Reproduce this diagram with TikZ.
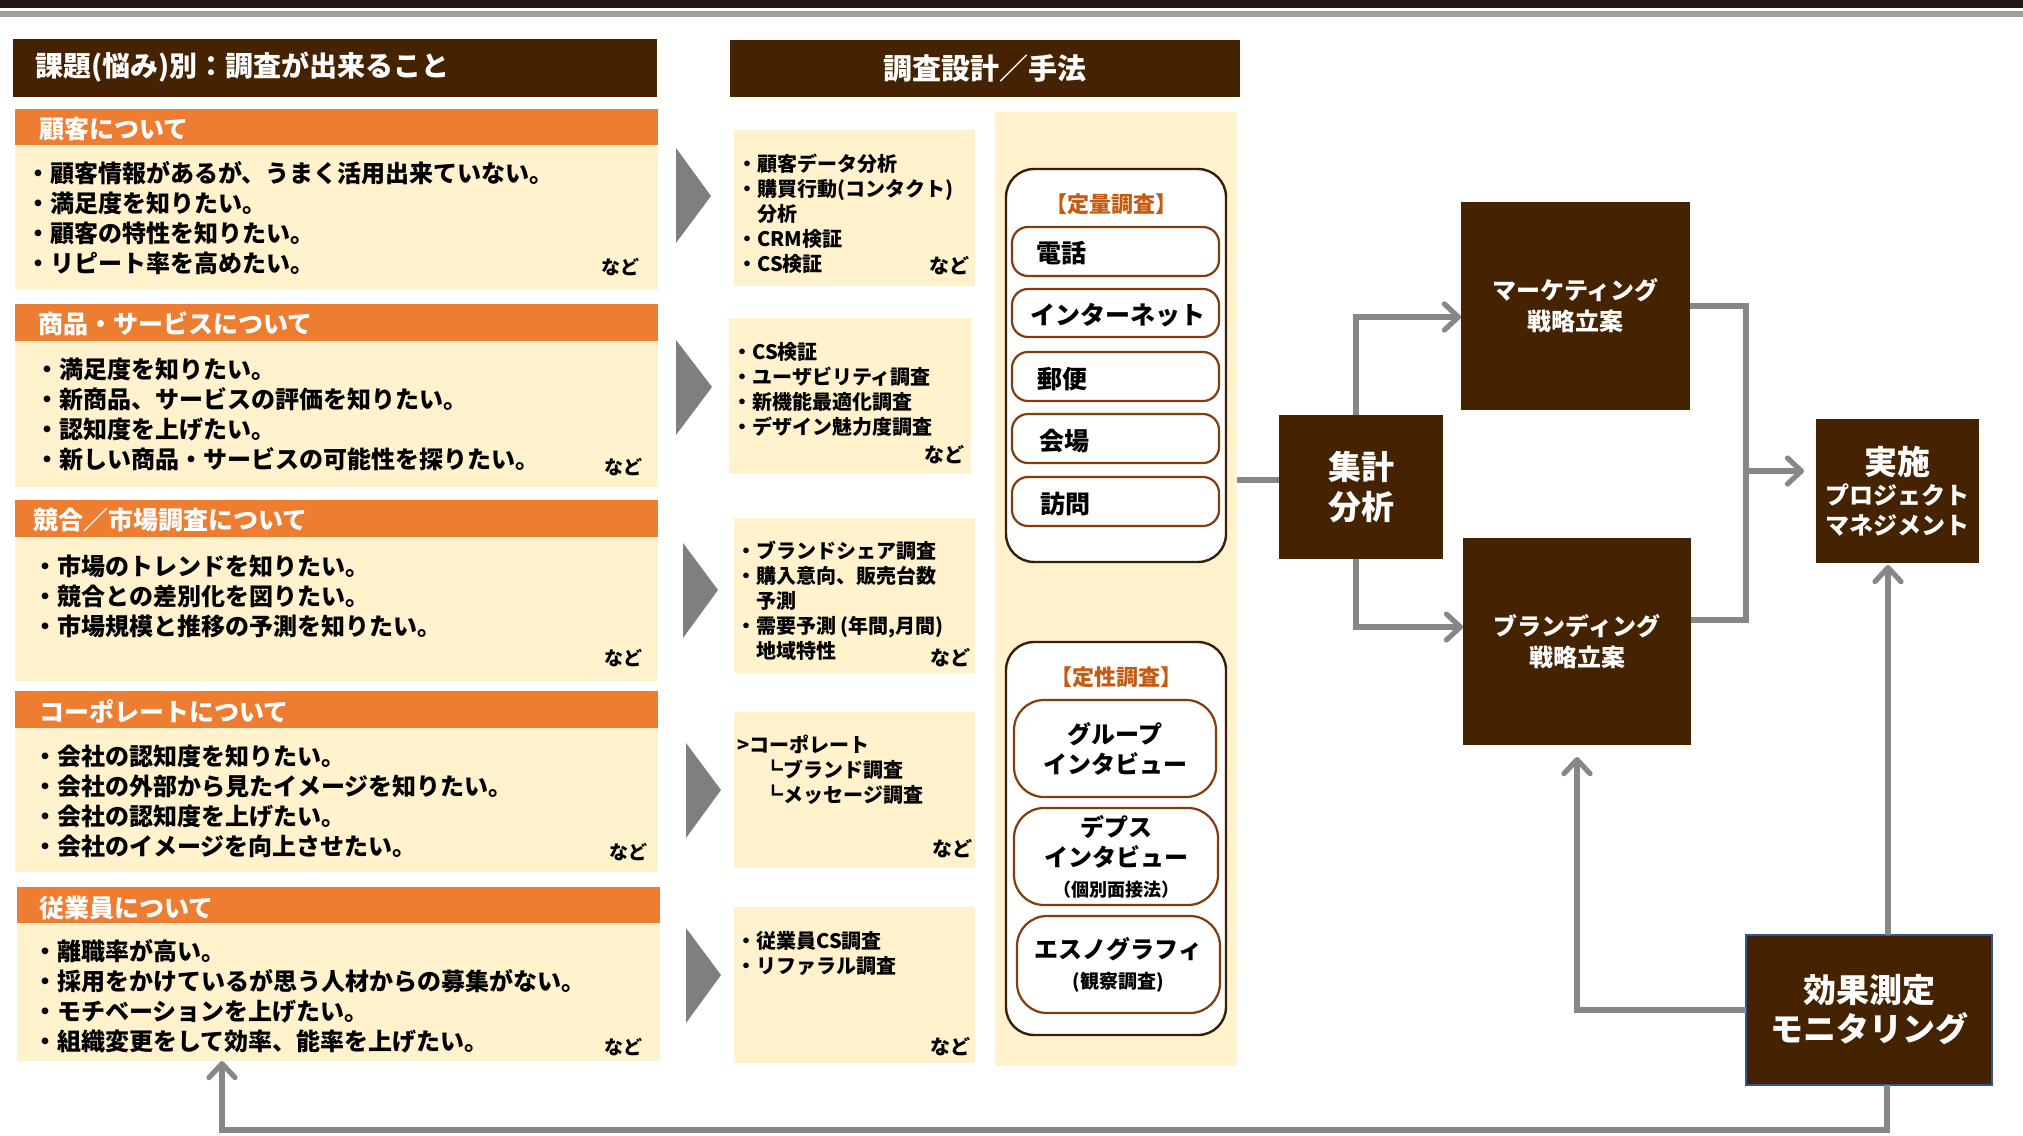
\documentclass[tikz,border=0pt]{standalone}
\usepackage{fontspec}
\setmainfont{Noto Sans CJK JP}
\usetikzlibrary{arrows.meta,fit}
\definecolor{brn}{HTML}{452300}
\definecolor{org}{HTML}{ED7D31}
\definecolor{crm}{HTML}{FFF2CC}
\definecolor{lgray}{HTML}{878787}
\definecolor{tgray}{HTML}{7F7F7F}
\definecolor{topdark}{HTML}{231815}
\definecolor{topgray}{HTML}{A0A0A0}
\definecolor{ttl}{HTML}{C55A11}
\definecolor{rbd}{HTML}{843C0C}
\definecolor{obd}{HTML}{3A1D08}
\definecolor{blu}{HTML}{2F5597}
\newcommand\myfs[2]{\fontsize{#1}{#2}\selectfont}
\begin{document}
\begin{tikzpicture}[x=0.5pt,y=-0.5pt,
  rect/.style={inner sep=0pt,outer sep=0pt},
  dark/.style={rect,fill=brn,text=white,align=center,font=\bfseries},
  sz/.style 2 args={minimum width=#1,minimum height=#2},
  obar/.style={rect,fill=org},
  cbox/.style={rect,fill=crm},
  htxt/.style={inner sep=0pt,anchor=west,text=white,font=\bfseries\myfs{14}{16}},
  otxt/.style={inner sep=0pt,anchor=west,text=white,font=\bfseries\myfs{12.5}{15}},
  btxt/.style={inner sep=0pt,anchor=north west,align=left,font=\bfseries\myfs{12}{15}},
  ctxt/.style={inner sep=0pt,anchor=north west,align=left,font=\bfseries\myfs{10}{12.5}},
  nado/.style={inner sep=0pt,font=\bfseries\myfs{9.5}{11}},
  cnado/.style={inner sep=0pt,font=\bfseries\myfs{10}{12}},
  ttlt/.style={inner sep=0pt,text=ttl,font=\bfseries\myfs{11}{13}},
  obox/.style={rect,draw=obd,line width=1.2pt,rounded corners=14pt,fill=white},
  rbox/.style={rect,draw=rbd,line width=1.1pt,rounded corners=8pt,fill=white},
  rbox2/.style={rect,draw=rbd,line width=1.1pt,rounded corners=15pt,fill=white,align=center,font=\bfseries\myfs{12}{15}},
  rlab/.style={inner sep=0pt,anchor=west,font=\bfseries\myfs{12.5}{15}},
  conn/.style={draw=lgray,line width=2.6pt},
  arr/.style={-{Straight Barb[length=7pt,width=13pt,round]}}
]
\useasboundingbox (0,0) rectangle (2023,1135);
\fill[white] (0,0) rectangle (2023,1135);
% top rules
\fill[topdark] (0,0) rectangle (2023,8);
\fill[topgray] (0,11) rectangle (2023,17);

% ---------- left column ----------
\node[dark,fit={(13,39) (657,97)}] (h1) {};
\node[htxt] (h1t) at (35,67) {課題(悩み)別：調査が出来ること};

\node[obar,fit={(15,109) (658,145)}] (s1h) {};
\node[otxt] (s1ht) at (39,129) {顧客について};
\node[cbox,fit={(15,145) (658,290)}] (s1b) {};
\node[btxt] (s1bt) at (26,161) {・顧客情報があるが、うまく活用出来ていない。\\・満足度を知りたい。\\・顧客の特性を知りたい。\\・リピート率を高めたい。};
\node[nado] (s1n) at (620,267) {など};

\node[obar,fit={(15,304) (658,341)}] (s2h) {};
\node[otxt] (s2ht) at (38,324) {商品・サービスについて};
\node[cbox,fit={(15,341) (658,487)}] (s2b) {};
\node[btxt] (s2bt) at (35,358) {・満足度を知りたい。\\・新商品、サービスの評価を知りたい。\\・認知度を上げたい。\\・新しい商品・サービスの可能性を探りたい。};
\node[nado] (s2n) at (623,467) {など};

\node[obar,fit={(15,500) (658,537)}] (s3h) {};
\node[otxt] (s3ht) at (33,520) {競合／市場調査について};
\node[cbox,fit={(15,537) (658,681)}] (s3b) {};
\node[btxt] (s3bt) at (33,554) {・市場のトレンドを知りたい。\\・競合との差別化を図りたい。\\・市場規模と推移の予測を知りたい。};
\node[nado] (s3n) at (623,658) {など};

\node[obar,fit={(15,691) (658,728)}] (s4h) {};
\node[otxt] (s4ht) at (39,711) {コーポレートについて};
\node[cbox,fit={(15,728) (658,872)}] (s4b) {};
\node[btxt] (s4bt) at (33,745) {・会社の認知度を知りたい。\\・会社の外部から見たイメージを知りたい。\\・会社の認知度を上げたい。\\・会社のイメージを向上させたい。};
\node[nado] (s4n) at (628,852) {など};

\node[obar,fit={(17,887) (660,923)}] (s5h) {};
\node[otxt] (s5ht) at (39,908) {従業員について};
\node[cbox,fit={(17,923) (660,1061)}] (s5b) {};
\node[btxt] (s5bt) at (33,939) {・離職率が高い。\\・採用をかけているが思う人材からの募集がない。\\・モチベーションを上げたい。\\・組織変更をして効率、能率を上げたい。};
\node[nado] (s5n) at (623,1047) {など};

% triangles
\fill[tgray] (676,148) -- (711,196) -- (676,243) -- cycle;
\fill[tgray] (676,340) -- (712,387) -- (676,435) -- cycle;
\fill[tgray] (683,543) -- (718,590) -- (683,638) -- cycle;
\fill[tgray] (686,743) -- (721,790) -- (686,838) -- cycle;
\fill[tgray] (686,928) -- (721,975) -- (686,1023) -- cycle;

% ---------- middle column ----------
\node[dark,sz={255pt}{28.5pt},font=\bfseries\myfs{14.5}{17}] (h2) at (985,68.5) {調査設計／手法};

\node[cbox,fit={(734,130) (975,286)}] (c1) {};
\node[ctxt] (c1t) at (737,154) {・顧客データ分析\\・購買行動(コンタクト)\\\hspace*{1em}分析\\・CRM検証\\・CS検証};
\node[cnado] (c1n) at (949,266) {など};

\node[cbox,fit={(729,318) (971,474)}] (c2) {};
\node[ctxt] (c2t) at (732,342) {・CS検証\\・ユーザビリティ調査\\・新機能最適化調査\\・デザイン魅力度調査};
\node[cnado] (c2n) at (944,455) {など};

\node[cbox,fit={(734,518) (975,673)}] (c3b) {};
\node[ctxt] (c3t) at (736,541) {・ブランドシェア調査\\・購入意向、販売台数\\\hspace*{1em}予測\\・需要予測 (年間,月間)\\\hspace*{1em}地域特性};
\node[cnado] (c3n) at (950,658) {など};

\node[cbox,fit={(734,712) (975,868)}] (c4) {};
\node[ctxt] (c4t) at (737,735) {>コーポレート\\\hspace*{13pt}┗ブランド調査\\\hspace*{13pt}┗メッセージ調査};
\node[cnado] (c4n) at (952,849) {など};

\node[cbox,fit={(734,907) (975,1063)}] (c5) {};
\node[ctxt] (c5t) at (736,931) {・従業員CS調査\\・リファラル調査};
\node[cnado] (c5n) at (950,1047) {など};

% ---------- methods column ----------
\node[cbox,fit={(995,112) (1237,1066)}] (c3) {};
\node[obox,fit={(1006,169) (1226,562)}] (qn) {};
\node[ttlt] (qnt) at (1111,204) {【定量調査】};
\node[rbox,fit={(1012,227) (1219,276)}] (m1) {};
\node[rlab] (m1t) at (1036,253) {電話};
\node[rbox,fit={(1012,289) (1219,337)}] (m2) {};
\node[rlab] (m2t) at (1030,315) {インターネット};
\node[rbox,fit={(1012,352) (1219,401)}] (m3) {};
\node[rlab] (m3t) at (1037,379) {郵便};
\node[rbox,fit={(1012,414) (1219,463)}] (m4) {};
\node[rlab] (m4t) at (1039,441) {会場};
\node[rbox,fit={(1012,477) (1219,526)}] (m5) {};
\node[rlab] (m5t) at (1040,504) {訪問};

\node[obox,fit={(1006,642) (1226,1035)}] (ql) {};
\node[ttlt] (qlt) at (1116,677) {【定性調査】};
\node[rbox2,sz={101pt}{48.5pt}] (g1) at (1115,748.5) {グループ\\インタビュー};
\node[rbox2,sz={102pt}{48.5pt}] (g2) at (1116,856.5) {デプス\\インタビュー\\{\myfs{9}{11}（個別面接法）}};
\node[rbox2,sz={101.5pt}{48.5pt}] (g3) at (1118.5,964.5) {エスノグラフィ\\{\myfs{9.5}{12}(観察調査)}};

% ---------- right flow ----------
\node[dark,sz={82pt}{72pt},font=\bfseries\myfs{16.5}{20}] (agg) at (1361,487) {集計\\分析};
\node[dark,sz={114.5pt}{104pt},font=\bfseries\myfs{12}{15.5}] (mkt) at (1575.5,306) {マーケティング\\戦略立案};
\node[dark,sz={114pt}{103.5pt},font=\bfseries\myfs{12}{15.5}] (brd) at (1577,641.5) {ブランディング\\戦略立案};
\node[dark,sz={81.5pt}{72pt},font=\bfseries\myfs{12}{15}] (impl) at (1897.5,491) {{\myfs{16.5}{19}実施}\\プロジェクト\\マネジメント};
\node[dark,draw=blu,line width=0.8pt,sz={123pt}{75pt},font=\bfseries\myfs{16.5}{19.5}] (eff) at (1869,1010) {効果測定\\モニタリング};

\coordinate (junc) at (1746,471);
\coordinate (fb) at (222,1130);

\draw[conn] ([yshift=3.5pt]agg.west) -- ([yshift=3.5pt]agg.west -| c3.east);
\draw[conn,arr] ([xshift=-2.5pt]agg.north) |- ([yshift=-5.5pt]mkt.west);
\draw[conn,arr] ([xshift=-2.5pt]agg.south) |- ([yshift=7.25pt]brd.west);
\draw[conn] (mkt.east) -| (junc) |- ([yshift=10.75pt]brd.east);
\draw[conn,arr,shorten >=6pt] (junc) -- (junc -| impl.west);
\draw[conn,arr,shorten >=6pt] (eff.west) -| (brd.south);
\draw[conn,arr,shorten >=1pt] ([xshift=9.5pt]eff.north) -- ([xshift=9.5pt]eff.north |- impl.south);
\draw[conn,arr] ([xshift=9pt]eff.south) |- (fb) -- (fb |- s5b.south);
\end{tikzpicture}
\end{document}
